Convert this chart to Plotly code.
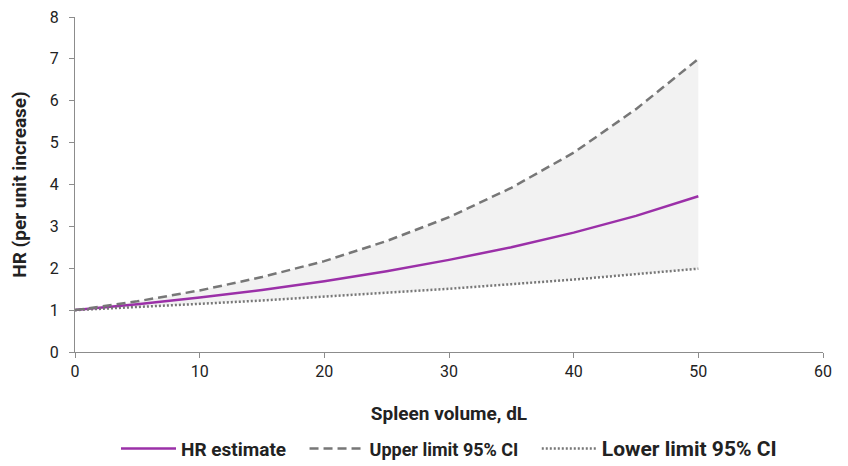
import plotly.graph_objects as go

# values
spleen_volume = [0, 5, 10, 15, 20, 25, 30, 35, 40, 45, 50]
hr_estimate = [1.00, 1.14, 1.30, 1.48, 1.69, 1.93, 2.20, 2.50, 2.85, 3.25, 3.72]
upper_ci = [1.00, 1.21, 1.47, 1.79, 2.17, 2.65, 3.22, 3.92, 4.76, 5.80, 7.00]
lower_ci = [1.00, 1.07, 1.15, 1.23, 1.32, 1.41, 1.51, 1.62, 1.73, 1.86, 1.99]

font_name = "Roboto, Arial, sans-serif"
axis_col = "#8c8c8c"
gap = "&nbsp;" * 3

fig = go.Figure()

# shaded band between the limits
fig.add_trace(go.Scatter(x=spleen_volume, y=lower_ci, mode="lines",
                         line=dict(width=0), showlegend=False, hoverinfo="skip"))
fig.add_trace(go.Scatter(x=spleen_volume, y=upper_ci, mode="lines",
                         line=dict(width=0), fill="tonexty", fillcolor="#f2f2f2",
                         showlegend=False, hoverinfo="skip"))

fig.add_trace(go.Scatter(x=spleen_volume, y=hr_estimate, mode="lines",
                         name='<span style="font-size:19px">HR estimate</span>' + gap,
                         line=dict(color="#9b30a8", width=2.5)))
fig.add_trace(go.Scatter(x=spleen_volume, y=upper_ci, mode="lines",
                         name="Upper limit 95% CI" + gap,
                         line=dict(color="#777777", width=2.5, dash="9px,5px")))
fig.add_trace(go.Scatter(x=spleen_volume, y=lower_ci, mode="lines",
                         name='<span style="font-size:21px">Lower limit 95% CI</span>',
                         line=dict(color="#777777", width=2.5, dash="2px,2px")))

fig.update_layout(
    width=848, height=466,
    margin=dict(l=67, r=33, t=9, b=122),
    paper_bgcolor="white", plot_bgcolor="white",
    font=dict(family=font_name, size=16, color="#222222"),
    legend=dict(orientation="h", x=0.5, xanchor="center", xref="paper",
                y=0.054, yanchor="middle", yref="container",
                font=dict(size=18, family=font_name, weight="bold"),
                itemwidth=55, traceorder="normal"),
    xaxis=dict(range=[0, 60], dtick=10, showgrid=False, zeroline=False,
               showline=True, linecolor=axis_col, ticks="outside", tickcolor=axis_col,
               ticklen=5, tickfont=dict(size=16), automargin=False,
               ticklabeloverflow="allow",
               title=dict(text="Spleen volume, dL", standoff=26,
                          font=dict(size=19, weight="bold"))),
    yaxis=dict(range=[0, 8], dtick=1, showgrid=False, zeroline=False,
               showline=True, linecolor=axis_col, ticks="outside", tickcolor=axis_col,
               ticklen=5, tickfont=dict(size=16), automargin=False,
               ticklabelstandoff=7, ticklabeloverflow="allow",
               title=dict(text="HR (per unit increase)", standoff=20,
                          font=dict(size=19, weight="bold"))),
)

fig.write_html("out.html")
